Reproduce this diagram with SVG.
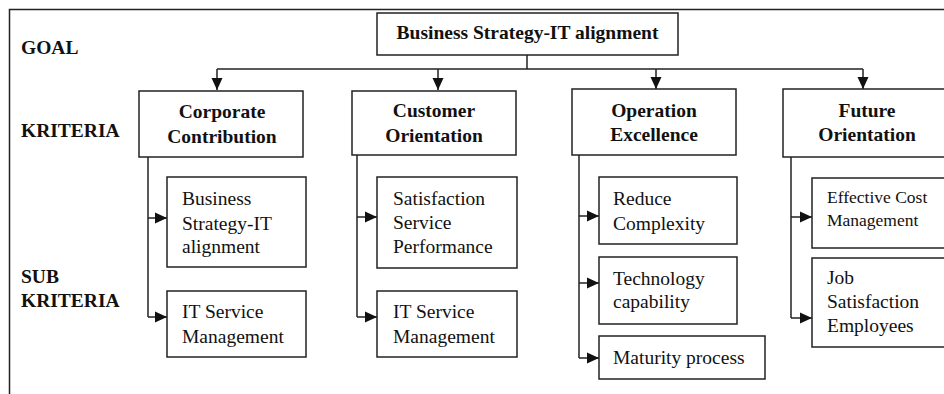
<svg xmlns="http://www.w3.org/2000/svg" width="944" height="394" viewBox="0 0 944 394">
<style>
.box{fill:#fff;stroke:#222;stroke-width:1.5}
.ln{fill:none;stroke:#222;stroke-width:1.5}
text{font-family:'Liberation Serif','Tinos','Times New Roman','DejaVu Serif','Noto Serif',serif;fill:#111}
.b{font-weight:bold;font-size:19.5px}
.r{font-size:19.5px}
.s{font-size:17.5px}
.c{text-anchor:middle}
</style>
<defs>
<marker id="ah" markerUnits="userSpaceOnUse" markerWidth="12" markerHeight="12" viewBox="0 0 12 12" refX="12" refY="6" orient="auto">
<path d="M0,0.5 L12,6 L0,11.5 Z" fill="#111"/>
</marker>
</defs>
<rect width="944" height="394" fill="#fff"/>
<path class="ln" d="M9.5,394 V9.5 H944"/>
<g id="labels" font-family="Liberation Serif, serif">
<text class="b" x="21" y="54">GOAL</text>
<text class="b" x="21" y="137">KRITERIA</text>
<text class="b" x="21" y="283">SUB</text>
<text class="b" x="21" y="307">KRITERIA</text>
</g>
<g id="connectors">
<path class="ln" d="M527,55 V69"/>
<path class="ln" d="M217,69 H863"/>
<path class="ln" d="M217,69 V90" marker-end="url(#ah)"/>
<path class="ln" d="M438,69 V90" marker-end="url(#ah)"/>
<path class="ln" d="M656,69 V89" marker-end="url(#ah)"/>
<path class="ln" d="M863,69 V89" marker-end="url(#ah)"/>
<path class="ln" d="M148,157 V317"/>
<path class="ln" d="M148,218 H167" marker-end="url(#ah)"/>
<path class="ln" d="M148,317 H167" marker-end="url(#ah)"/>
<path class="ln" d="M357,155 V317"/>
<path class="ln" d="M357,217 H377" marker-end="url(#ah)"/>
<path class="ln" d="M357,317 H377" marker-end="url(#ah)"/>
<path class="ln" d="M579,155 V358"/>
<path class="ln" d="M579,216 H599" marker-end="url(#ah)"/>
<path class="ln" d="M579,283 H599" marker-end="url(#ah)"/>
<path class="ln" d="M579,358 H599" marker-end="url(#ah)"/>
<path class="ln" d="M791,157 V318"/>
<path class="ln" d="M791,217 H812" marker-end="url(#ah)"/>
<path class="ln" d="M791,318 H812" marker-end="url(#ah)"/>
</g>
<g id="goal">
<rect class="box" x="377" y="13" width="301" height="42"/>
<text class="b c" x="527.5" y="39">Business Strategy-IT alignment</text>
</g>
<g id="k1">
<rect class="box" x="139" y="91" width="164" height="66"/>
<text class="b c" x="222" y="118">Corporate</text>
<text class="b c" x="222" y="143">Contribution</text>
</g>
<g id="k2">
<rect class="box" x="352" y="91" width="164" height="64"/>
<text class="b c" x="434" y="117">Customer</text>
<text class="b c" x="434" y="142">Orientation</text>
</g>
<g id="k3">
<rect class="box" x="572" y="89" width="164" height="66"/>
<text class="b c" x="654" y="117">Operation</text>
<text class="b c" x="654" y="141">Excellence</text>
</g>
<g id="k4">
<rect class="box" x="783" y="89" width="168" height="68"/>
<text class="b c" x="867" y="117">Future</text>
<text class="b c" x="867" y="141">Orientation</text>
</g>
<g id="s11">
<rect class="box" x="167" y="177" width="139" height="90"/>
<text class="r" x="182" y="205">Business</text>
<text class="r" x="182" y="230">Strategy-IT</text>
<text class="r" x="182" y="253">alignment</text>
</g>
<g id="s12">
<rect class="box" x="167" y="291" width="139" height="66"/>
<text class="r" x="182" y="318">IT Service</text>
<text class="r" x="182" y="343">Management</text>
</g>
<g id="s21">
<rect class="box" x="377" y="177" width="140" height="91"/>
<text class="r" x="393" y="205">Satisfaction</text>
<text class="r" x="393" y="229">Service</text>
<text class="r" x="393" y="253">Performance</text>
</g>
<g id="s22">
<rect class="box" x="377" y="291" width="140" height="66"/>
<text class="r" x="393" y="318">IT Service</text>
<text class="r" x="393" y="343">Management</text>
</g>
<g id="s31">
<rect class="box" x="599" y="177" width="138" height="67"/>
<text class="r" x="613" y="205">Reduce</text>
<text class="r" x="613" y="230">Complexity</text>
</g>
<g id="s32">
<rect class="box" x="599" y="257" width="138" height="67"/>
<text class="r" x="613" y="285">Technology</text>
<text class="r" x="613" y="308">capability</text>
</g>
<g id="s33">
<rect class="box" x="599" y="336" width="166" height="43"/>
<text class="r" x="613" y="364">Maturity process</text>
</g>
<g id="s41">
<rect class="box" x="812" y="178" width="140" height="70"/>
<text class="s" x="827" y="203">Effective Cost</text>
<text class="s" x="827" y="226">Management</text>
</g>
<g id="s42">
<rect class="box" x="812" y="258" width="140" height="89"/>
<text class="r" x="827" y="284">Job</text>
<text class="r" x="827" y="308">Satisfaction</text>
<text class="r" x="827" y="332">Employees</text>
</g>
</svg>
